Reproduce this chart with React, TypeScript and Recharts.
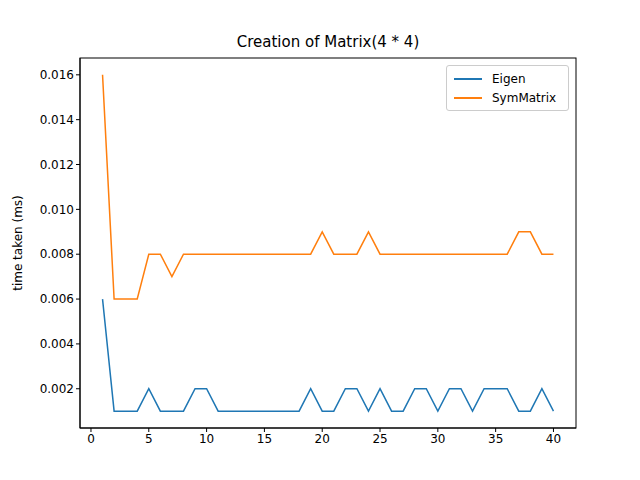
import React from "react";
import {
  LineChart,
  Line,
  XAxis,
  YAxis,
  Label,
} from "recharts";

const runs: number[] = Array.from({ length: 40 }, (_, i) => i + 1);
// values in ms
const eigen: number[] = [
  0.006, 0.001, 0.001, 0.001, 0.002, 0.001, 0.001, 0.001, 0.002, 0.002,
  0.001, 0.001, 0.001, 0.001, 0.001, 0.001, 0.001, 0.001, 0.002, 0.001,
  0.001, 0.002, 0.002, 0.001, 0.002, 0.001, 0.001, 0.002, 0.002, 0.001,
  0.002, 0.002, 0.001, 0.002, 0.002, 0.002, 0.001, 0.001, 0.002, 0.001,
];
const symMatrix: number[] = [
  0.016, 0.006, 0.006, 0.006, 0.008, 0.008, 0.007, 0.008, 0.008, 0.008,
  0.008, 0.008, 0.008, 0.008, 0.008, 0.008, 0.008, 0.008, 0.008, 0.009,
  0.008, 0.008, 0.008, 0.009, 0.008, 0.008, 0.008, 0.008, 0.008, 0.008,
  0.008, 0.008, 0.008, 0.008, 0.008, 0.008, 0.009, 0.009, 0.008, 0.008,
];
const xTicks: number[] = [0, 5, 10, 15, 20, 25, 30, 35, 40];
const yTicks: number[] = [0.002, 0.004, 0.006, 0.008, 0.01, 0.012, 0.014, 0.016];
const legendItems: [string, string][] = [
  ["Eigen", "#1f77b4"],
  ["SymMatrix", "#ff7f0e"],
];

const data = runs.map((r, i) => ({ run: r, eigen: eigen[i], sym: symMatrix[i] }));

const font = "DejaVu Sans";

export default function App() {
  return (
    <div style={{ position: "absolute", left: 0, top: 0, width: 640, height: 480, background: "#fff" }}>
      <div
        style={{
          position: "absolute",
          top: 33,
          left: 80,
          width: 496,
          textAlign: "center",
          fontFamily: font,
          fontSize: 15,
        }}
      >
        Creation of Matrix(4 * 4)
      </div>
      <LineChart
        width={640}
        height={480}
        data={data}
        margin={{ top: 58, right: 64, bottom: 22, left: 10 }}
        style={{ fontFamily: font }}
      >
        <XAxis
          dataKey="run"
          type="number"
          domain={[-0.95, 41.95]}
          ticks={xTicks}
          allowDataOverflow
          stroke="#000"
          tick={{ fill: "#000", fontSize: 12 }}
          tickSize={4}
          height={30}
        />
        <YAxis
          type="number"
          domain={[0.00025, 0.01675]}
          ticks={yTicks}
          allowDataOverflow
          stroke="#000"
          tick={{ fill: "#000", fontSize: 12 }}
          tickFormatter={(v: number) => v.toFixed(3)}
          tickSize={4}
          width={70}
        >
          <Label value="time taken (ms)" angle={-90} position="insideLeft" offset={8} style={{ fontSize: 12, fill: "#000", textAnchor: "middle" }} />
        </YAxis>
        <Line dataKey="eigen" stroke="#1f77b4" strokeWidth={1.5} dot={false} isAnimationActive={false} />
        <Line dataKey="sym" stroke="#ff7f0e" strokeWidth={1.5} dot={false} isAnimationActive={false} />
        <rect x={80} y={58} width={496} height={370} fill="none" stroke="#000" />
      </LineChart>
      <div
        style={{
          position: "absolute",
          top: 65,
          left: 446,
          width: 107,
          border: "1px solid #ccc",
          borderRadius: 3,
          background: "#fff",
          padding: "3px 7px",
          fontFamily: font,
          fontSize: 12,
        }}
      >
        {legendItems.map(([n, c]) => (
          <div key={n} style={{ display: "flex", alignItems: "center", height: 19 }}>
            <span style={{ width: 28, height: 2, background: c, marginRight: 10 }} />
            {n}
          </div>
        ))}
      </div>
    </div>
  );
}
